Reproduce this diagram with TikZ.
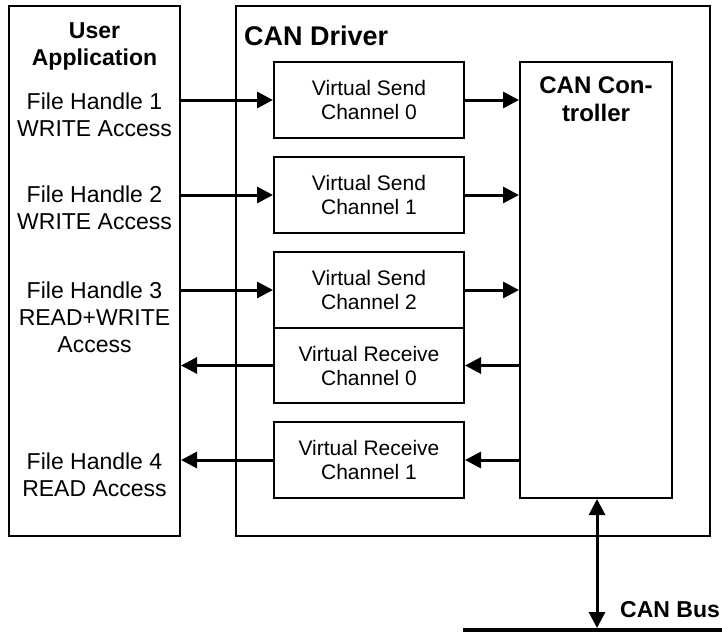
\documentclass[tikz,border=0pt]{standalone}
\usepackage{fontspec}
\setmainfont{Liberation Sans}
\usetikzlibrary{arrows.meta}
\begin{document}
\begin{tikzpicture}[x=1pt,y=-1pt,
  box/.style={draw,line width=2pt,inner sep=0pt,rectangle},
  vbox/.style={box,minimum width=190pt,minimum height=76pt,align=center,font=\fontsize{21}{24}\selectfont},
  txt/.style={inner sep=0pt,align=center,font=\fontsize{23}{27}\selectfont},
  btxt/.style={inner sep=0pt,align=center,font=\fontsize{23}{27}\selectfont\bfseries},
  flow/.style={line width=3pt,-{Triangle[length=16pt,width=16pt]}},
  bus/.style={line width=3.5pt}]
\useasboundingbox (0,0) rectangle (722,632);
% outer boxes
\node[box,minimum width=171pt,minimum height=530pt] (ua) at (94.5,271) {};
\node[box,minimum width=474pt,minimum height=530pt] (drv) at (473,271) {};
% user application texts
\node[btxt] (uat) at (94.5,46.5) {User\\Application};
\node[txt] (fh1) at (94.5,115.2) {File Handle 1\\WRITE Access};
\node[txt] (fh2) at (94.5,208.2) {File Handle 2\\WRITE Access};
\node[txt] (fh3) at (94.5,316.8) {File Handle 3\\READ+WRITE\\Access};
\node[txt] (fh4) at (94.5,475.2) {File Handle 4\\READ Access};
% driver title
\node[inner sep=0pt,anchor=base west,font=\fontsize{27}{31}\selectfont\bfseries] (drvt) at (244,45) {CAN Driver};
% virtual channels
\node[vbox] (vs0) at (369,100) {Virtual Send\\Channel 0};
\node[vbox] (vs1) at (369,195) {Virtual Send\\Channel 1};
\node[vbox] (vs2) at (369,290) {Virtual Send\\Channel 2};
\node[vbox,minimum height=75pt] (vr0) at (369,365.5) {Virtual Receive\\Channel 0};
\node[vbox] (vr1) at (369,460) {Virtual Receive\\Channel 1};
% controller
\node[box,minimum width=152pt,minimum height=436pt] (ctl) at (596,280) {};
\node[inner sep=0pt,align=center,font=\fontsize{24}{28}\selectfont\bfseries] (ctlt) at (596,99.4) {CAN Con-\\troller};
% connectors
\draw[flow] (ua.east |- vs0) -- (vs0.west);
\draw[flow] (ua.east |- vs1) -- (vs1.west);
\draw[flow] (ua.east |- vs2) -- (vs2.west);
\draw[flow] (vr0.west) -- (ua.east |- vr0);
\draw[flow] (vr1.west) -- (ua.east |- vr1);
\draw[flow] (vs0.east) -- (ctl.west |- vs0);
\draw[flow] (vs1.east) -- (ctl.west |- vs1);
\draw[flow] (vs2.east) -- (ctl.west |- vs2);
\draw[flow] (ctl.west |- vr0) -- (vr0.east);
\draw[flow] (ctl.west |- vr1) -- (vr1.east);
% CAN bus
\coordinate (busl) at (463,630);
\coordinate (busr) at (722,630);
\draw[bus] (busl) -- (busr);
\coordinate (bustap) at (597,628);
\draw[line width=3pt,{Triangle[length=16pt,width=16pt]}-{Triangle[length=16pt,width=16pt]}] (ctl.south -| bustap) -- (bustap);
\node[inner sep=0pt,anchor=base west,font=\fontsize{23}{27}\selectfont\bfseries] (bust) at (620,617) {CAN Bus};
\end{tikzpicture}
\end{document}
